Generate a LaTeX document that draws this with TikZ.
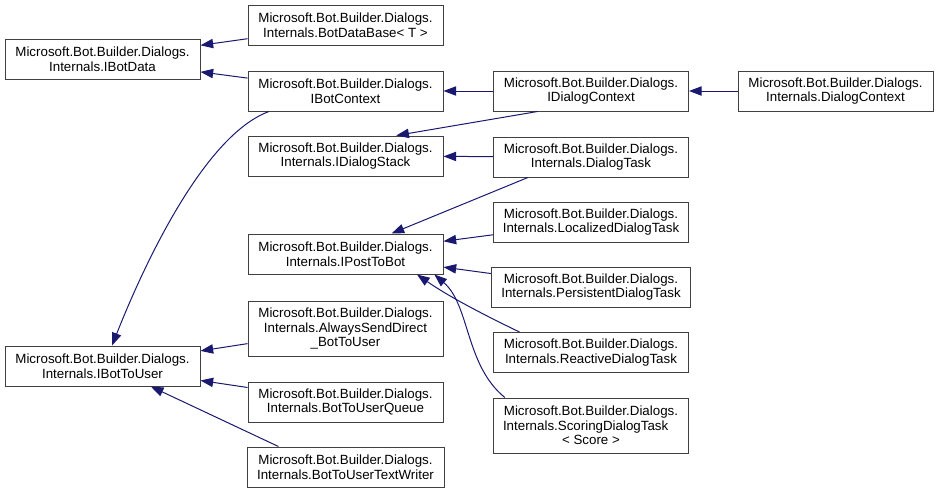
\documentclass[tikz,border=0pt]{standalone}
\usepackage{fontspec}
\setmainfont{Liberation Sans}
\usetikzlibrary{arrows.meta}
\definecolor{edgeblue}{HTML}{191970}
\definecolor{boxgray}{HTML}{404040}

\begin{document}
\begin{tikzpicture}[x=0.75pt,y=-0.75pt,
  cls/.style={draw=boxgray, line width=0.75pt, fill=white, inner sep=0pt,
    minimum width=146.25pt, minimum height=30pt, align=center,
    font=\fontsize{10pt}{11pt}\selectfont},
  tall/.style={minimum height=41.25pt},
  inherit/.style={draw=edgeblue, line width=0.75pt,
    -{Triangle[length=9.5pt,width=7pt]}}]
  \useasboundingbox (0,0) rectangle (939,493);

  % left column
  \node [cls] (ibotdata) at (102.5,59) {Microsoft.Bot.Builder.Dialogs.\\Internals.IBotData};
  \node [cls] (ibottouser) at (102.5,366) {Microsoft.Bot.Builder.Dialogs.\\Internals.IBotToUser};

  % second column
  \node [cls] (botdatabase) at (345.5,25) {Microsoft.Bot.Builder.Dialogs.\\Internals.BotDataBase< T >};
  \node [cls] (ibotcontext) at (345.5,91) {Microsoft.Bot.Builder.Dialogs.\\IBotContext};
  \node [cls] (idialogstack) at (345.5,156) {Microsoft.Bot.Builder.Dialogs.\\Internals.IDialogStack};
  \node [cls] (iposttobot) at (345.5,254) {Microsoft.Bot.Builder.Dialogs.\\Internals.IPostToBot};
  \node [cls,tall] (alwayssend) at (345.5,328.5) {Microsoft.Bot.Builder.Dialogs.\\Internals.AlwaysSendDirect\\\_BotToUser};
  \node [cls] (usrqueue) at (345.5,402) {Microsoft.Bot.Builder.Dialogs.\\Internals.BotToUserQueue};
  \node [cls,minimum width=147.75pt] (usrwriter) at (345.5,467) {Microsoft.Bot.Builder.Dialogs.\\Internals.BotToUserTextWriter};

  % third column
  \node [cls] (idialogcontext) at (591,91) {Microsoft.Bot.Builder.Dialogs.\\IDialogContext};
  \node [cls] (dialogtask) at (591,157) {Microsoft.Bot.Builder.Dialogs.\\Internals.DialogTask};
  \node [cls] (localizedtask) at (591,222) {Microsoft.Bot.Builder.Dialogs.\\Internals.LocalizedDialogTask};
  \node [cls,minimum width=149.25pt] (persistenttask) at (591,287) {Microsoft.Bot.Builder.Dialogs.\\Internals.PersistentDialogTask};
  \node [cls] (reactivetask) at (591,352.5) {Microsoft.Bot.Builder.Dialogs.\\Internals.ReactiveDialogTask};
  \node [cls,tall] (scoringtask) at (591,425.5) {Microsoft.Bot.Builder.Dialogs.\\Internals.ScoringDialogTask\kern8pt\\< Score >};

  % right column
  \node [cls] (dialogcontext) at (835.5,91) {Microsoft.Bot.Builder.Dialogs.\\Internals.DialogContext};

  % inheritance
  \draw [inherit] (botdatabase) -- (ibotdata);
  \draw [inherit] (ibotcontext) -- (ibotdata);
  \draw [inherit] (ibotcontext.195) .. controls (205,135) and (145,262) .. (ibottouser.65);
  \draw [inherit] (idialogcontext) -- (ibotcontext);
  \draw [inherit] (dialogcontext) -- (idialogcontext);
  \draw [inherit] (idialogcontext.-159) -- (idialogstack.22);
  \draw [inherit] (dialogtask) -- (idialogstack);
  \draw [inherit] (dialogtask.-162) -- (iposttobot.24);
  \draw [inherit] (localizedtask) -- (iposttobot);
  \draw [inherit] (persistenttask) -- (iposttobot);
  \draw [inherit] (reactivetask.164) .. controls (482,314) and (448,296) .. (iposttobot.-16.5);
  \draw [inherit] (scoringtask.162) .. controls (465,365) and (470,305) .. (iposttobot.-13.8);
  \draw [inherit] (alwayssend) -- (ibottouser);
  \draw [inherit] (usrqueue) -- (ibottouser);
  \draw [inherit] (usrwriter.163) -- (ibottouser.-23);

\end{tikzpicture}
\end{document}
